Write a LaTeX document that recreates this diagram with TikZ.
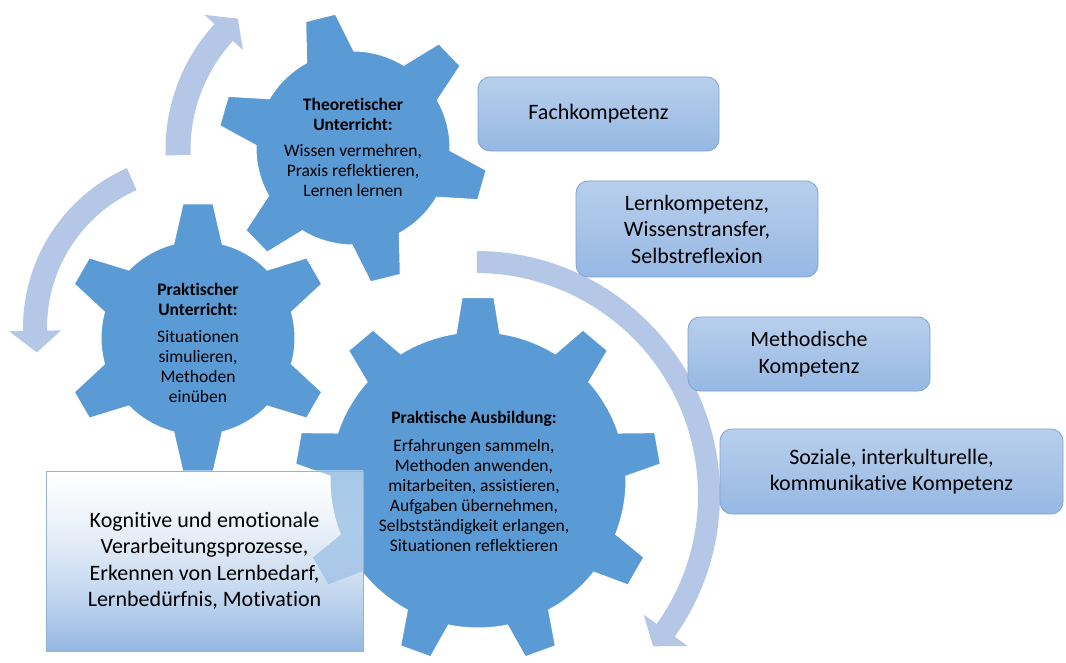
\documentclass[tikz,border=0pt]{standalone}
\usepackage{fontspec}
\setmainfont{Carlito}[Ligatures=NoCommon]
\usepackage{tikz}
\usetikzlibrary{shapes,positioning,calc,fadings}

\definecolor{gearblue}{RGB}{91,155,213}
\definecolor{arrowblue}{RGB}{180,199,231}
\definecolor{boxtop}{RGB}{184,207,236}
\definecolor{boxbot}{RGB}{150,184,227}
\definecolor{boxline}{RGB}{122,164,214}
\definecolor{procline}{RGB}{150,178,214}
\definecolor{procbot}{RGB}{148,183,227}

\tikzfading[name=procfade, top color=transparent!55, bottom color=transparent!0]

% cogwheel: centre, teeth, body radius, tip radius, first tooth, half angle at base, half angle at tip
\newcommand{\cogwheel}[7]{%
  \begin{scope}[shift={#1}]
    \pgfmathsetmacro{\cogstep}{360/#2}
    \filldraw[gear] ({#5-#6}:#3)
      \foreach \k in {1,...,#2}{
        -- ({#5+(\k-1)*\cogstep-#7}:#4) -- ({#5+(\k-1)*\cogstep+#7}:#4)
        -- ({#5+(\k-1)*\cogstep+#6}:#3)
        arc[start angle={#5+(\k-1)*\cogstep+#6}, end angle={#5+\k*\cogstep-#6}, radius=#3pt]
      } -- cycle;
  \end{scope}}

% cycle arrow: centre, mid radius, half band, tail angle, head angle, tip angle, half head
\newcommand{\cyclearrow}[7]{%
  \begin{scope}[shift={#1}]
    \pgfmathsetmacro{\rout}{#2+#3}
    \pgfmathsetmacro{\rin}{#2-#3}
    \pgfmathsetmacro{\hout}{#2+#7}
    \pgfmathsetmacro{\hin}{#2-#7}
    \fill[turn] ({#4}:\rout) arc[start angle=#4, end angle=#5, radius=\rout pt]
      -- ({#5}:\hout) -- ({#6}:#2) -- ({#5}:\hin) -- ({#5}:\rin)
      arc[start angle=#5, end angle=#4, radius=\rin pt] -- cycle;
  \end{scope}}

\begin{document}
\begin{tikzpicture}[
    x=1pt, y=1pt,
    font=\fontsize{22}{26.5}\selectfont,
    gear/.style={fill=gearblue, draw=white, line width=1pt},
    turn/.style={fill=arrowblue},
    geartext/.style={align=center, inner sep=0pt, font=\fontsize{17.5}{20}\selectfont},
    comp/.style={rounded corners=12pt, draw=boxline, line width=0.8pt,
        top color=boxtop, bottom color=boxbot, align=center, inner sep=0pt},
    proc/.style={draw=procline, line width=0.6pt, align=center, inner sep=0pt,
        preaction={top color=white, bottom color=procbot, path fading=procfade}}
]
    \fill[white] (0,0) rectangle (1066,-663);

    % Cycle arrows
    \cyclearrow{(352,-150)}{174}{12.5}{181.7}{137.5}{131}{26}
    \cyclearrow{(198,-328)}{163}{12}{114}{181}{188.6}{26}
    \cyclearrow{(476,-495)}{233}{11}{89.8}{-35.5}{-40.5}{27}

    % Gears
    \cogwheel{(353,-148)}{6}{97}{135}{104}{14.5}{6.5}
    \cogwheel{(198,-338)}{6}{97}{135}{90}{14.5}{6.4}
    \cogwheel{(478,-480)}{9}{148}{183}{90}{8.5}{5}

    \node[geartext] (theo) at (353,-147) {\textbf{Theoretischer}\\\textbf{Unterricht:}\\[6pt]
        Wissen vermehren,\\Praxis reflektieren,\\Lernen lernen};
    \node[geartext] (prakt) at (198,-343) {\textbf{Praktischer}\\\textbf{Unterricht:}\\[7pt]
        Situationen\\simulieren,\\Methoden\\einüben};
    \node[geartext] (ausb) at (474,-481) {\textbf{Praktische Ausbildung:}\\[8pt]
        Erfahrungen sammeln,\\Methoden anwenden,\\mitarbeiten, assistieren,\\
        Aufgaben übernehmen,\\Selbstständigkeit erlangen,\\Situationen reflektieren};

    % Competences
    \node[comp, minimum width=241pt, minimum height=74pt] (fach) at (598.5,-114) {Fachkompetenz};
    \node[comp, minimum width=242pt, minimum height=96pt] (lern) at (697,-229)
        {Lernkompetenz,\\Wissenstransfer,\\Selbstreflexion};
    \node[comp, minimum width=242pt, minimum height=74pt] (meth) at (809,-354)
        {Methodische\\Kompetenz};
    \node[comp, minimum width=343pt, minimum height=85pt] (soz) at (891.5,-471.5)
        {Soziale, interkulturelle,\\kommunikative Kompetenz};

    % Processes
    \node[proc, minimum width=317pt, minimum height=180pt] (proz) at (204.5,-561)
        {Kognitive und emotionale\\Verarbeitungsprozesse,\\Erkennen von Lernbedarf,\\Lernbedürfnis, Motivation};
\end{tikzpicture}
\end{document}
